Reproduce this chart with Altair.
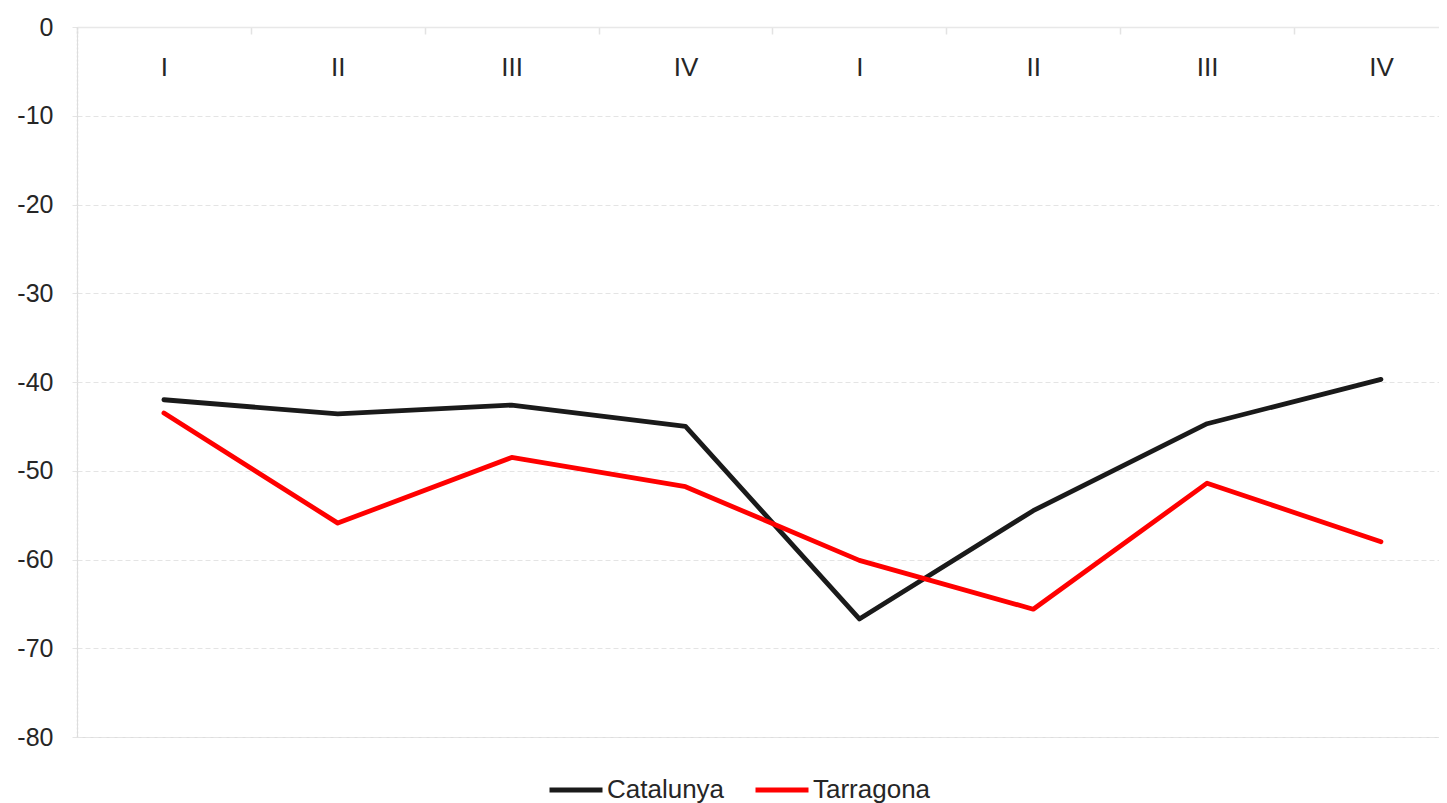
import json
import altair as alt
import pandas as pd

# ---- data ----
quarters = ["I", "II", "III", "IV", "I", "II", "III", "IV"]
series_names = ["Catalunya", "Tarragona"]
catalunya = [-42.0, -43.6, -42.6, -45.0, -66.7, -54.5, -44.7, -39.7]
tarragona = [-43.5, -55.9, -48.5, -51.8, -60.1, -65.6, -51.4, -58.0]
y_ticks = [0, -10, -20, -30, -40, -50, -60, -70, -80]
series_colors = ["#1a1a1a", "#ff0000"]

rows = []
for name, vals in zip(series_names, [catalunya, tarragona]):
    for i, (q, v) in enumerate(zip(quarters, vals)):
        rows.append({"idx": i, "quarter": q, "serie": name, "value": v, "order": series_names.index(name)})
df = pd.DataFrame(rows)

W = 1362
H = 710
band = 173.86
x_max = -0.5 + W / band
FONT = "Liberation Sans"
TXT = "#262626"

label_expr = json.dumps(quarters) + "[datum.value]"

x_axis = alt.Axis(
    orient="bottom", offset=-H, values=list(range(len(quarters))),
    labelExpr=label_expr, tickOffset=-band / 2, labelOffset=band / 2,
    tickSize=7, tickColor="#e3e3e3", tickWidth=1.5,
    domainColor="#e8e8e8", domainWidth=1.5,
    labelFontSize=26, labelFont=FONT, labelColor=TXT, labelPadding=20,
    labelFlush=False, labelOverlap=False, labelBound=False,
    grid=False, title=None,
)

y_axis = alt.Axis(
    values=y_ticks, labelExpr="toString(datum.value)",
    tickSize=7, tickColor="#e4e4e4", tickDash=[5, 3], tickWidth=1,
    grid=True, gridColor="#e4e4e4", gridDash=[5, 3], gridWidth=1,
    domainColor="#dddddd", domainDash=[2, 2], domainWidth=1.5,
    labelFontSize=25, labelFont=FONT, labelColor=TXT, labelPadding=17,
    title=None,
)

chart = (
    alt.Chart(df)
    .mark_line(strokeWidth=4.8, strokeCap="round", strokeJoin="round")
    .encode(
        x=alt.X("idx:Q", scale=alt.Scale(domain=[-0.5, x_max], nice=False, zero=False), axis=x_axis),
        y=alt.Y("value:Q", scale=alt.Scale(domain=[-80, 0], nice=False), axis=y_axis),
        color=alt.Color(
            "serie:N",
            scale=alt.Scale(domain=series_names, range=series_colors),
            legend=alt.Legend(
                orient="none", legendX=470, legendY=734, direction="horizontal",
                title=None, symbolType="stroke", symbolSize=2809, symbolStrokeWidth=4.8,
                labelFontSize=26, labelFont=FONT, labelColor=TXT, labelOffset=2,
                columnPadding=20,
            ),
        ),
        order=alt.Order("order:Q"),
        detail="serie:N",
    )
    .properties(
        width=W, height=H,
        padding={"left": 69, "top": 19, "right": 0, "bottom": 66},
        autosize=alt.AutoSizeParams(type="none"),
    )
    .configure_view(stroke=None)
    .configure(background="white")
)

chart.save("out.html", embed_options={"renderer": "svg", "actions": False})
